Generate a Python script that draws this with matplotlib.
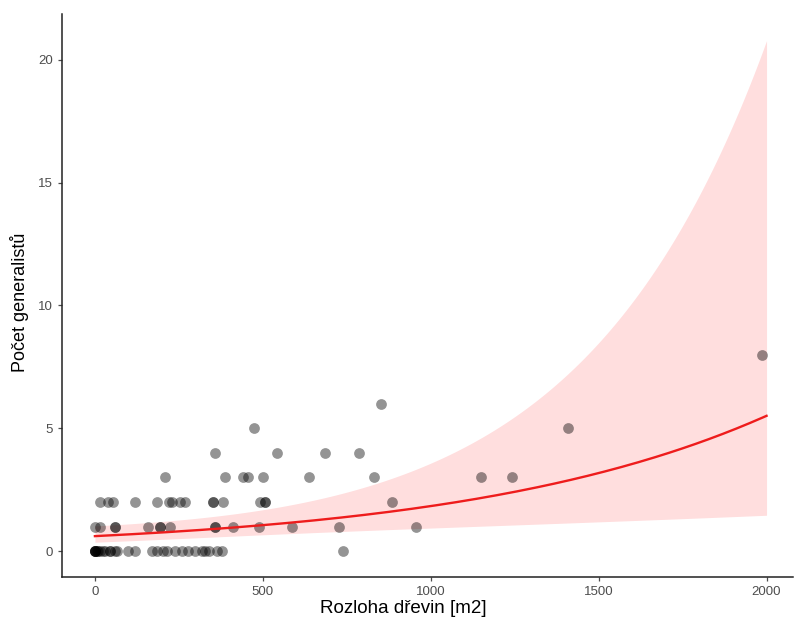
import numpy as np
import matplotlib
matplotlib.use("Agg")
import matplotlib.pyplot as plt

# area of woody plants (m2) for each observed number of generalists
x_at_0 = [0, 0, 0, 0, 0, 5, 10, 15, 25, 30, 45, 45, 60, 66, 98, 119, 170, 185,
          203, 215, 238, 259, 277, 298, 319, 328, 340, 364, 379, 740]
x_at_1 = [0, 15, 60, 60, 158, 194, 194, 224, 358, 358, 411, 489, 587, 727, 957]
x_at_2 = [15, 40, 55, 119, 185, 220, 230, 254, 268, 352, 352, 382, 492, 505,
          505, 885]
x_at_3 = [209, 387, 441, 456, 501, 638, 832, 1150, 1243]
x_at_4 = [358, 543, 686, 787]
x_at_5 = [474, 1410]
x_at_6 = [852]
x_at_8 = [1985]

groups = {0: x_at_0, 1: x_at_1, 2: x_at_2, 3: x_at_3, 4: x_at_4,
          5: x_at_5, 6: x_at_6, 8: x_at_8}
area = np.array([v for k in groups for v in groups[k]], dtype=float)
count = np.array([k for k in groups for v in groups[k]], dtype=float)

# log-link model (area in thousands of m2)
coef = [-0.494, 1.10]                 # intercept, slope
vcov = [[0.0703, -0.0508],
        [-0.0508, 0.148]]

xs = np.linspace(0, 2000, 200)
Xs = np.column_stack([np.ones_like(xs), xs / 1000])
eta = Xs @ np.array(coef)
se = np.sqrt(np.einsum("ij,jk,ik->i", Xs, np.array(vcov), Xs))
fit = np.exp(eta)
lo = np.exp(eta - 1.96 * se)
hi = np.exp(eta + 1.96 * se)

plt.rcParams['font.family'] = ['Liberation Sans', 'DejaVu Sans']

fig = plt.figure(figsize=(7.95, 6.26), dpi=100)
ax = fig.add_axes([0.078, 0.078, 0.92, 0.9])

ax.fill_between(xs, lo, hi, color='red', alpha=0.13, lw=0, zorder=1)
ax.scatter(area, count, s=60, color='black', alpha=0.42, lw=0, zorder=2)
ax.plot(xs, fit, color='#EE1C1C', lw=1.7, zorder=3)

ax.set_xlim(-98, 2080)
ax.set_ylim(-1.06, 21.87)
ax.set_xticks([0, 500, 1000, 1500, 2000])
ax.set_yticks([0, 5, 10, 15, 20])
for s in ['top', 'right']:
    ax.spines[s].set_visible(False)
for s in ['left', 'bottom']:
    ax.spines[s].set_linewidth(1.1)
    ax.spines[s].set_color('#222222')
ax.tick_params(colors='#4D4D4D', labelsize=9.5, length=3, width=0.9)
ax.tick_params(axis='x', pad=3)
ax.set_xlabel('Rozloha dřevin [m2]', fontsize=13.5, color='black')
ax.set_ylabel('Počet generalistů', fontsize=13, color='black')
ax.xaxis.set_label_coords(0.466, -0.04)
ax.yaxis.set_label_coords(-0.045, 0.488)

fig.savefig('out.png', dpi=100)
